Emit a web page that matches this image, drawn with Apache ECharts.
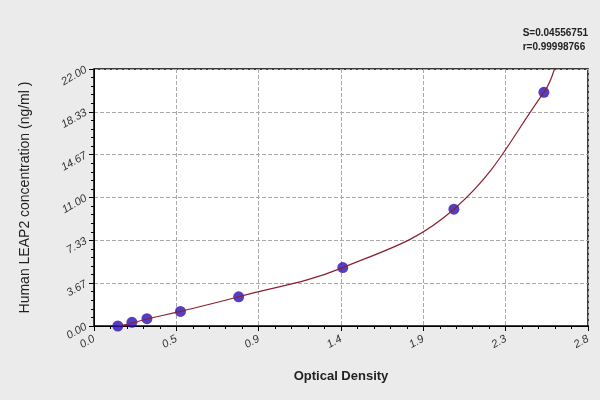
<!DOCTYPE html><html><head><meta charset="utf-8"><script src="https://cdn.jsdelivr.net/npm/echarts@6/dist/echarts.min.js"></script></head><body style="margin:0;background:#ebebeb"><div id="c" style="width:600px;height:400px"></div><script>
const od=[0.135,0.215,0.30,0.49,0.82,1.41,2.04,2.55];
const conc=[0,0.312,0.625,1.25,2.5,5,10,20];
const curveX=[0.135,0.215,0.30,0.49,0.82,1.41,2.04,2.55,2.61];
const curveY=[0,0.25,0.6,1.25,2.5,5,10,20,22];
const yTicks=['0.00','3.67','7.33','11.00','14.67','18.33','22.00'];
const xTicks=['0.0','0.5','0.9','1.4','1.9','2.3','2.8'];
const ch=echarts.init(document.getElementById('c'));
const step=2.8/6,ystep=22/6;
ch.setOption({backgroundColor:'#ebebeb',animation:false,
grid:{left:94,right:12,top:69,bottom:74,show:true,backgroundColor:'#fff',borderColor:'#000',borderWidth:1.5},
graphic:[{type:'text',right:12,top:26,style:{text:'S=0.04556751\nr=0.99998766',font:'bold 10px Liberation Sans',fill:'#222',align:'right',lineHeight:14}}],
xAxis:{type:'value',min:0,max:2.8,interval:step,name:'Optical Density',nameLocation:'middle',nameGap:44,nameTextStyle:{fontSize:13,fontWeight:'bold',color:'#222',fontFamily:'Liberation Sans'},
axisLine:{lineStyle:{color:'#000'}},axisTick:{lineStyle:{color:'#000'}},minorTick:{show:true,splitNumber:5,lineStyle:{color:'#000'}},
axisLabel:{rotate:30,margin:12,color:'#333',fontStyle:'italic',fontSize:11,formatter:(v)=>xTicks[Math.round(v/step)]},
splitLine:{show:true,lineStyle:{type:'dashed',color:'#aaa'}}},
yAxis:{type:'value',min:0,max:22,interval:ystep,name:'Human LEAP2 concentration (ng/ml )',nameLocation:'middle',nameGap:62,nameTextStyle:{fontSize:14,color:'#222',fontFamily:'Liberation Sans'},
axisLine:{lineStyle:{color:'#000'}},axisTick:{lineStyle:{color:'#000'}},minorTick:{show:true,splitNumber:5,lineStyle:{color:'#000'}},
axisLabel:{rotate:30,color:'#333',fontStyle:'italic',fontSize:11,formatter:(v)=>yTicks[Math.round(v/ystep)]},
splitLine:{show:true,lineStyle:{type:'dashed',color:'#aaa'}}},
series:[{type:'line',smooth:0.4,symbol:'none',data:curveX.map((x,i)=>[x,curveY[i]]),lineStyle:{color:'#8b2030',width:1.2}},
{type:'scatter',symbolSize:11,data:od.map((x,i)=>[x,conc[i]]),itemStyle:{color:'#2a0fb0'}}]});
</script></body></html>
